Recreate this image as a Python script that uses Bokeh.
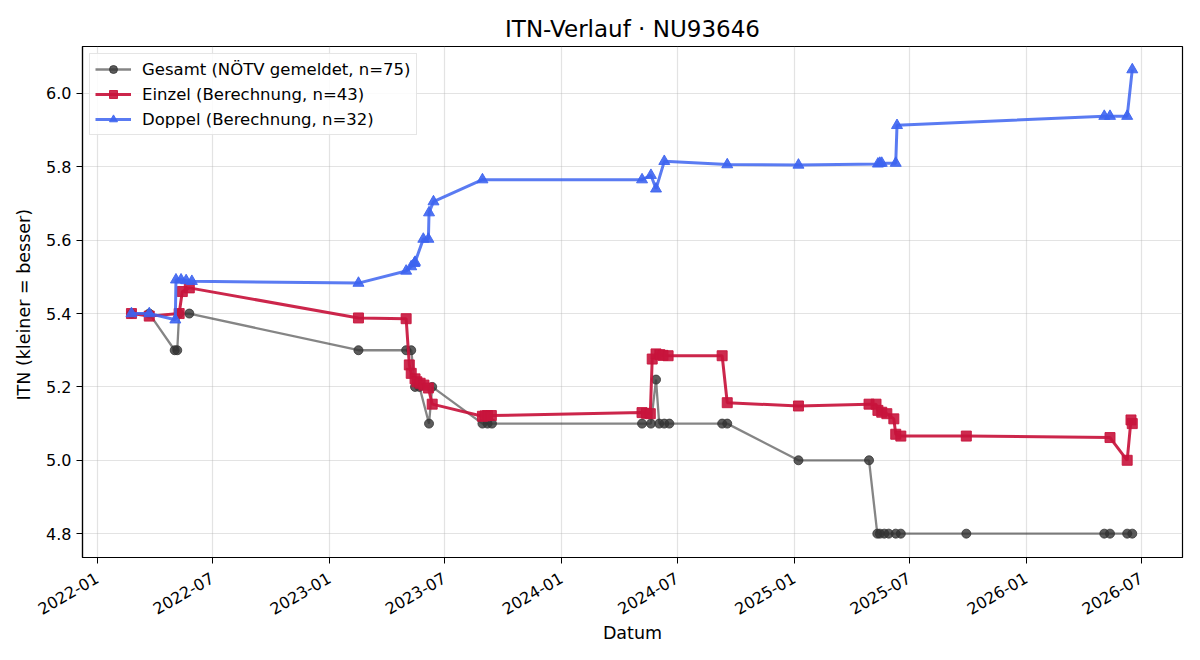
import math
from datetime import datetime
import pandas as pd
from bokeh.plotting import figure
from bokeh.models import (ColumnDataSource, Range1d, MonthsTicker, FixedTicker,
                          DatetimeTickFormatter, PrintfTickFormatter, Legend, LegendItem)
from bokeh.embed import file_html
from bokeh.resources import INLINE

# ---------------- data ----------------
gesamt_dates = ["2022-02-24", "2022-03-24", "2022-05-03", "2022-05-07", "2022-05-10", "2022-05-26",
                "2023-02-16", "2023-05-02", "2023-05-10", "2023-05-16", "2023-05-23", "2023-06-07",
                "2023-06-12", "2023-08-30", "2023-09-07", "2023-09-14",
                "2024-05-07", "2024-05-21", "2024-05-29", "2024-06-03", "2024-06-11", "2024-06-19",
                "2024-09-10", "2024-09-18",
                "2025-01-08", "2025-04-29", "2025-05-12", "2025-05-16", "2025-05-23", "2025-05-30",
                "2025-06-10", "2025-06-18", "2025-09-29",
                "2026-05-04", "2026-05-13", "2026-06-09", "2026-06-17"]
gesamt_itn = [5.4, 5.4, 5.3, 5.3, 5.4, 5.4,
              5.3, 5.3, 5.3, 5.2, 5.2, 5.1,
              5.2, 5.1, 5.1, 5.1,
              5.1, 5.1, 5.22, 5.1, 5.1, 5.1,
              5.1, 5.1,
              5.0, 5.0, 4.8, 4.8, 4.8, 4.8,
              4.8, 4.8, 4.8,
              4.8, 4.8, 4.8, 4.8]

einzel_dates = ["2022-02-24", "2022-03-24", "2022-05-10", "2022-05-15", "2022-05-26",
                "2023-02-16", "2023-05-02", "2023-05-07", "2023-05-10", "2023-05-16", "2023-05-19",
                "2023-05-24", "2023-05-30", "2023-06-06", "2023-06-12",
                "2023-08-30", "2023-09-03", "2023-09-07", "2023-09-13",
                "2024-05-07", "2024-05-14", "2024-05-20", "2024-05-23", "2024-05-29", "2024-06-04",
                "2024-06-09", "2024-06-17", "2024-09-10", "2024-09-18",
                "2025-01-08", "2025-04-29", "2025-05-10", "2025-05-13", "2025-05-19", "2025-05-27",
                "2025-06-07", "2025-06-10", "2025-06-18", "2025-09-29",
                "2026-05-13", "2026-06-09", "2026-06-15", "2026-06-17"]
einzel_itn = [5.400, 5.393, 5.400, 5.460, 5.470,
              5.388, 5.386, 5.260, 5.237, 5.222, 5.214,
              5.210, 5.205, 5.197, 5.153,
              5.120, 5.121, 5.122, 5.122,
              5.130, 5.128, 5.127, 5.276, 5.290, 5.288,
              5.286, 5.285, 5.285, 5.157,
              5.148, 5.153, 5.153, 5.136, 5.131, 5.127,
              5.113, 5.071, 5.066, 5.066,
              5.062, 5.000, 5.110, 5.100]

doppel_dates = ["2022-02-24", "2022-03-24", "2022-05-04", "2022-05-05", "2022-05-13", "2022-05-21",
                "2022-05-30", "2023-02-16", "2023-05-02", "2023-05-10", "2023-05-15", "2023-05-16",
                "2023-05-29", "2023-06-06", "2023-06-07", "2023-06-14", "2023-08-30",
                "2024-05-07", "2024-05-21", "2024-05-29", "2024-06-11", "2024-09-18",
                "2025-01-08", "2025-05-13", "2025-05-16", "2025-05-19", "2025-06-10", "2025-06-12",
                "2026-05-04", "2026-05-13", "2026-06-09", "2026-06-17"]
doppel_itn = [5.400, 5.400, 5.383, 5.492, 5.492, 5.490,
              5.488, 5.483, 5.516, 5.528, 5.537, 5.540,
              5.603, 5.603, 5.675, 5.705, 5.765,
              5.765, 5.777, 5.740, 5.815, 5.806,
              5.805, 5.808, 5.810, 5.810, 5.810, 5.913,
              5.938, 5.938, 5.938, 6.065]

labels = ["Gesamt (NÖTV gemeldet, n=75)", "Einzel (Berechnung, n=43)", "Doppel (Berechnung, n=32)"]
y_ticks = [4.8, 5.0, 5.2, 5.4, 5.6, 5.8, 6.0]

FONT = "DejaVu Sans"

# ---------------- figure ----------------
p = figure(width=1200, height=660, x_axis_type="datetime", output_backend="svg",
           toolbar_location=None,
           x_range=Range1d(start=datetime(2021, 12, 9), end=datetime(2026, 9, 4)),
           y_range=Range1d(start=4.735, end=6.128),
           min_border_left=82, min_border_right=18, min_border_top=46, min_border_bottom=103)

p.title.text = "ITN-Verlauf · NU93646"
p.title.align = "center"
p.title.text_font = FONT
p.title.text_font_size = "23px"
p.title.text_font_style = "normal"
p.title.text_color = "black"

src_g = ColumnDataSource(dict(x=pd.to_datetime(gesamt_dates), y=gesamt_itn))
src_e = ColumnDataSource(dict(x=pd.to_datetime(einzel_dates), y=einzel_itn))
src_d = ColumnDataSource(dict(x=pd.to_datetime(doppel_dates), y=doppel_itn))

gl = p.line("x", "y", source=src_g, line_color="#333333", line_alpha=0.6, line_width=2.3)
gs = p.scatter("x", "y", source=src_g, marker="circle", size=9,
               fill_color="#333333", fill_alpha=0.8, line_color="#333333", line_alpha=0.8)

el = p.line("x", "y", source=src_e, line_color="#c8143c", line_alpha=0.92, line_width=3)
es = p.scatter("x", "y", source=src_e, marker="square", size=10,
               fill_color="#c8143c", fill_alpha=0.9, line_color="#c8143c", line_alpha=0.9)

dl = p.line("x", "y", source=src_d, line_color="#3d64f0", line_alpha=0.85, line_width=3)
ds = p.scatter("x", "y", source=src_d, marker="triangle", size=11,
               fill_color="#3d64f0", fill_alpha=0.9, line_color="#3d64f0", line_alpha=0.9)

# ---------------- axes ----------------
p.xaxis.ticker = MonthsTicker(months=[0, 6])
p.xaxis.formatter = DatetimeTickFormatter(years="%Y-%m", months="%Y-%m", days="%Y-%m",
                                          hours="%Y-%m")
p.xaxis.major_label_orientation = math.pi / 6
p.yaxis.ticker = FixedTicker(ticks=y_ticks)
p.yaxis.formatter = PrintfTickFormatter(format="%.1f")

p.xaxis.axis_label = "Datum"
p.yaxis.axis_label = "ITN  (kleiner = besser)"

for ax in (p.xaxis[0], p.yaxis[0]):
    ax.major_label_text_font = FONT
    ax.major_label_text_font_size = "16px"
    ax.major_label_text_color = "black"
    ax.axis_label_text_font = FONT
    ax.axis_label_text_font_size = "17.5px"
    ax.axis_label_text_font_style = "normal"
    ax.axis_label_text_color = "black"
    ax.axis_line_color = "black"
    ax.axis_line_width = 1.2
    ax.major_tick_line_color = "black"
    ax.major_tick_out = 6
    ax.major_tick_in = 0
    ax.minor_tick_line_color = None
    ax.major_label_standoff = 5
p.xaxis.major_label_standoff = 13
p.xaxis.axis_label_standoff = 0
p.yaxis.axis_label_standoff = 9

p.xgrid.grid_line_color = "#b0b0b0"
p.ygrid.grid_line_color = "#b0b0b0"
p.xgrid.grid_line_alpha = 0.35
p.ygrid.grid_line_alpha = 0.35
p.xgrid.grid_line_width = 1.2
p.ygrid.grid_line_width = 1.2

p.outline_line_color = "black"
p.outline_line_alpha = 1
p.outline_line_width = 1.2
p.background_fill_color = "white"
p.border_fill_color = "white"

# ---------------- legend ----------------
legend = Legend(items=[LegendItem(label=labels[0], renderers=[gl, gs]),
                       LegendItem(label=labels[1], renderers=[el, es]),
                       LegendItem(label=labels[2], renderers=[dl, ds])],
                location="top_left")
legend.margin = 7
legend.padding = 5
legend.spacing = 5
legend.glyph_width = 36
legend.glyph_height = 20
legend.label_height = 20
legend.label_standoff = 11
legend.label_text_font = FONT
legend.label_text_font_size = "16.5px"
legend.label_text_color = "black"
legend.border_line_color = "#cccccc"
legend.border_line_width = 1
legend.background_fill_alpha = 0.85
p.add_layout(legend)

open("out.html", "w").write(file_html(p, INLINE))
